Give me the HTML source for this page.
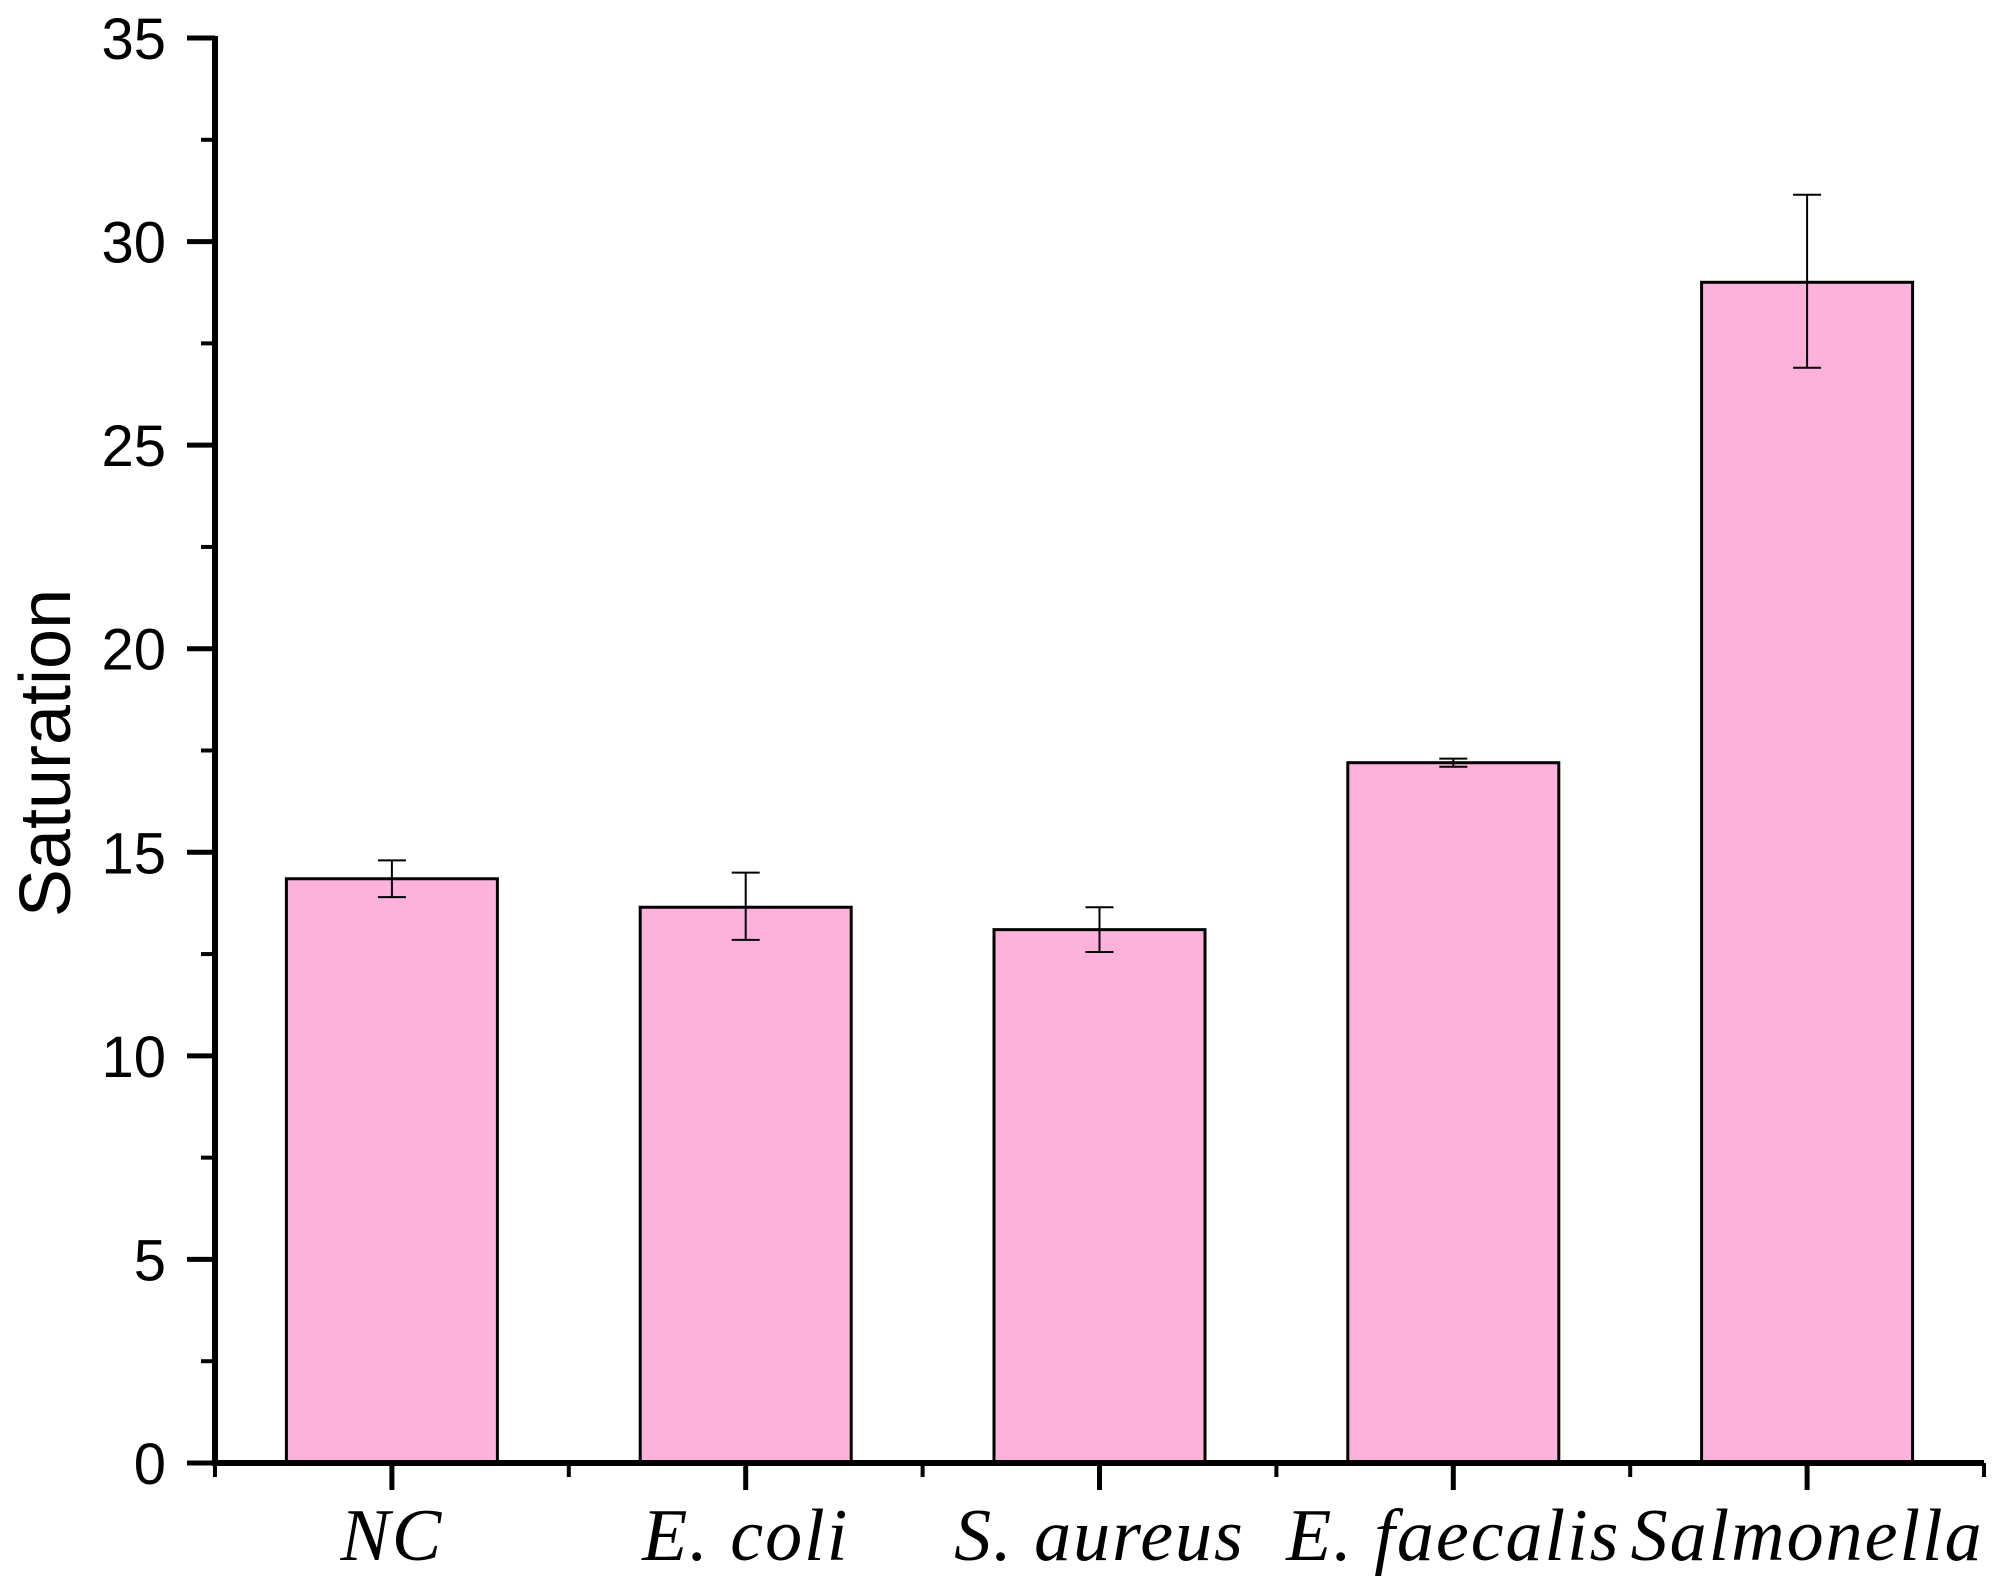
<!DOCTYPE html>
<html><head><meta charset="utf-8"><style>
html,body{margin:0;padding:0;background:#fff;}
svg{display:block;}
</style></head><body>
<svg id="chart" width="2007" height="1581" xmlns="http://www.w3.org/2000/svg">
<g id="plot"></g>
</svg>
<script>
const categories = ["NC", "E. coli", "S. aureus", "E. faecalis", "Salmonella"];
const values = [14.35, 13.65, 13.1, 17.2, 29.0];
const errLow = [13.9, 12.85, 12.55, 17.1, 26.9];
const errHigh = [14.8, 14.5, 13.65, 17.3, 31.15];
const yTicks = [0, 5, 10, 15, 20, 25, 30, 35];

const NS = "http://www.w3.org/2000/svg";
const g = document.getElementById('plot');
const X0 = 215, X1 = 1984, Y0 = 1463, Y35 = 38;
const step = (X1 - X0) / categories.length;
function y(v){ return Y0 - (v / 35) * (Y0 - Y35); }
function xc(i){ return X0 + step * (i + 0.5); }
function el(tag, attrs){ const e = document.createElementNS(NS, tag); for (const k in attrs) e.setAttribute(k, attrs[k]); g.appendChild(e); return e; }

categories.forEach((c, i) => {
  const bw = 211;
  const r = el('rect', {x: xc(i) - bw/2, y: y(values[i]), width: bw, height: Y0 - y(values[i]), fill: '#fdb2dc', stroke: '#000', 'stroke-width': 3});
  
  
  const eb = el('path', {d: `M${xc(i)-14},${y(errHigh[i])}H${xc(i)+14}M${xc(i)},${y(errHigh[i])}V${y(errLow[i])}M${xc(i)-14},${y(errLow[i])}H${xc(i)+14}`, stroke: '#000', 'stroke-width': 2, fill: 'none'});
  
  
  const t = el('line', {x1: xc(i), x2: xc(i), y1: Y0, y2: Y0 + 27, stroke: '#000', 'stroke-width': 5});
  
  
  const lb = el('text', {x: xc(i), y: 1560, 'text-anchor': 'middle', 'font-family': '"Liberation Serif", serif', 'font-style': 'italic', 'font-size': 74, 'letter-spacing': 2, fill: '#000'});
  lb.textContent = c;
  
  
});
for (let i = 0; i <= categories.length; i++) {
  const t = el('line', {x1: X0 + step*i, x2: X0 + step*i, y1: Y0, y2: Y0 + 14, stroke: '#000', 'stroke-width': 4});
  
  
}
yTicks.forEach(v => {
  const t = el('line', {x1: X0 - 28, x2: X0, y1: y(v), y2: y(v), stroke: '#000', 'stroke-width': 5});
  
  
  if (v < 35) {
    const m = el('line', {x1: X0 - 14, x2: X0, y1: y(v + 2.5), y2: y(v + 2.5), stroke: '#000', 'stroke-width': 4});
    
    
  }
  const lb = el('text', {x: 166, y: y(v) + 21, 'text-anchor': 'end', 'font-family': '"Liberation Sans", sans-serif', 'font-size': 58, fill: '#000'});
  lb.textContent = v;
  
  
});
const ax = el('path', {d: `M${X0},${Y35-2}V${Y0}H${X1}`, stroke: '#000', 'stroke-width': 6, fill: 'none'});


const yt = el('text', {x: 0, y: 0, transform: 'translate(70,753) rotate(-90)', 'text-anchor': 'middle', 'font-family': '"Liberation Sans", sans-serif', 'font-size': 72, fill: '#000'});
yt.textContent = 'Saturation';


</script>
</body></html>
